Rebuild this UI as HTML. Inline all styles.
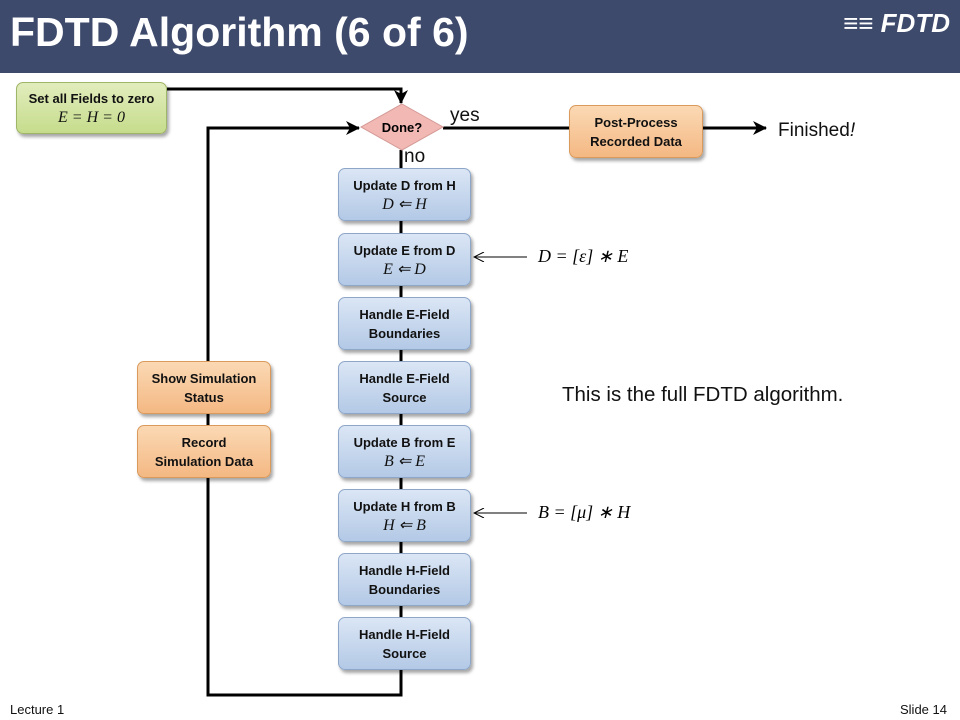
<!DOCTYPE html>
<html><head><style>
body{margin:0;width:960px;height:720px;background:#fff;position:relative;overflow:hidden;font-family:"Liberation Sans",sans-serif}
.hdr{position:absolute;left:0;top:0;width:960px;height:73px;background:#3e4a6c}
.hdr h1{position:absolute;left:10px;top:9px;margin:0;color:#fff;font-size:41px;font-weight:bold;font-family:"Liberation Sans",sans-serif}
.logo{position:absolute;right:10px;top:8px;color:#fff;font-style:italic;font-weight:bold;font-size:26px}
.b{position:absolute;box-sizing:border-box;border-radius:7px;text-align:center;font-size:13px;font-weight:bold;color:#111;box-shadow:2px 3px 3px rgba(0,0,0,.35);display:flex;flex-direction:column;justify-content:center;line-height:19px}
.blue{background:linear-gradient(#dbe6f5,#b3c9e6);border:1px solid #8ea7c9}
.or{background:linear-gradient(#fbd9b4,#f4b883);border:1px solid #d99a5c}
.gr{background:linear-gradient(#e2edbd,#c6dc8c);border:1px solid #9fb567}
.m{font-family:"Liberation Serif",serif;font-style:italic;font-weight:normal;font-size:16px}
.t{position:absolute;font-size:19px;color:#111}
.f{position:absolute;font-size:13px;color:#111}
</style></head><body>
<div class="hdr"><h1>FDTD Algorithm (6 of 6)</h1><div class="logo">≡≡ FDTD</div></div>
<svg width="960" height="720" style="position:absolute;left:0;top:0">
<defs><marker id="a" markerWidth="14" markerHeight="14" refX="13" refY="7" orient="auto" markerUnits="userSpaceOnUse"><path d="M0,0 L14,7 L0,14 L4,7z" fill="#000"/></marker>
<marker id="s" markerWidth="12" markerHeight="10" refX="11" refY="5" orient="auto" markerUnits="userSpaceOnUse"><path d="M1,0 L11,5 L1,10" fill="none" stroke="#000"/></marker></defs>
<g stroke="#000" stroke-width="3" fill="none">
<path d="M167,89 H401 V103" marker-end="url(#a)"/>
<path d="M401,670 V695 H208 V128 H359" marker-end="url(#a)"/>
<path d="M401,150 V617"/>
<path d="M443,128 H569"/>
<path d="M703,128 H766" marker-end="url(#a)"/>
</g>
<path d="M527,257 H474" stroke="#000" stroke-width="1" marker-end="url(#s)" />
<path d="M527,513 H474" stroke="#000" stroke-width="1" marker-end="url(#s)"/>
<path d="M402,104 L443,127 L402,150 L361,127z" fill="#f1b8b4" stroke="#d49995"/>
<text x="402" y="132" text-anchor="middle" font-family="Liberation Sans" font-weight="bold" font-size="13">Done?</text>
</svg>
<div class="b gr" style="left:16px;top:82px;width:151px;height:52px">Set all Fields to zero<span class="m">E = H = 0</span></div>
<div class="b or" style="left:569px;top:105px;width:134px;height:53px">Post-Process<br>Recorded Data</div>
<div class="b blue" style="left:338px;top:168px;width:133px;height:53px">Update D from H<span class="m">D ⇐ H</span></div>
<div class="b blue" style="left:338px;top:233px;width:133px;height:53px">Update E from D<span class="m">E ⇐ D</span></div>
<div class="b blue" style="left:338px;top:297px;width:133px;height:53px">Handle E-Field<br>Boundaries</div>
<div class="b blue" style="left:338px;top:361px;width:133px;height:53px">Handle E-Field<br>Source</div>
<div class="b blue" style="left:338px;top:425px;width:133px;height:53px">Update B from E<span class="m">B ⇐ E</span></div>
<div class="b blue" style="left:338px;top:489px;width:133px;height:53px">Update H from B<span class="m">H ⇐ B</span></div>
<div class="b blue" style="left:338px;top:553px;width:133px;height:53px">Handle H-Field<br>Boundaries</div>
<div class="b blue" style="left:338px;top:617px;width:133px;height:53px">Handle H-Field<br>Source</div>
<div class="b or" style="left:137px;top:361px;width:134px;height:53px">Show Simulation<br>Status</div>
<div class="b or" style="left:137px;top:425px;width:134px;height:53px">Record<br>Simulation Data</div>
<div class="t" style="left:450px;top:105px">yes</div>
<div class="t" style="left:404px;top:146px">no</div>
<div class="t" style="left:778px;top:120px">Finished<i>!</i></div>
<div class="t" style="left:562px;top:383px;font-size:20.5px">This is the full FDTD algorithm.</div>
<div class="m" style="position:absolute;left:538px;top:246px;font-size:18px">D = [ε] ∗ E</div>
<div class="m" style="position:absolute;left:538px;top:502px;font-size:18px">B = [μ] ∗ H</div>
<div class="f" style="left:10px;top:702px">Lecture 1</div>
<div class="f" style="left:900px;top:702px">Slide 14</div>
</body></html>
